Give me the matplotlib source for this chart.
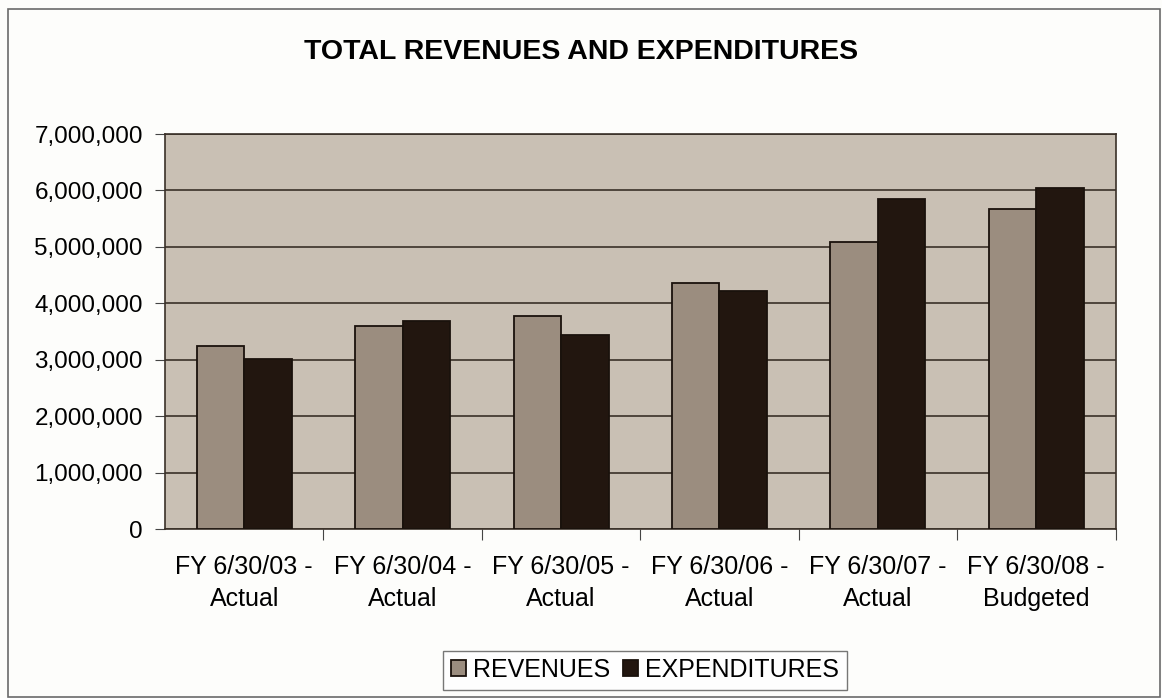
import matplotlib.pyplot as plt
from matplotlib.patches import Rectangle
from matplotlib.ticker import FuncFormatter
import numpy as np

plt.rcParams['font.family'] = ['Liberation Sans', 'DejaVu Sans']

categories = ['FY 6/30/03 -\nActual', 'FY 6/30/04 -\nActual', 'FY 6/30/05 -\nActual',
              'FY 6/30/06 -\nActual', 'FY 6/30/07 -\nActual', 'FY 6/30/08 -\nBudgeted']
revenues = [3250000, 3600000, 3780000, 4360000, 5090000, 5670000]
expenditures = [3010000, 3680000, 3440000, 4220000, 5850000, 6050000]

fig = plt.figure(figsize=(11.62, 6.98), dpi=100)
fig.patch.set_facecolor('#fdfdfb')
# outer chart frame
fig.add_artist(Rectangle((0.007, 0.001), 0.991, 0.986, transform=fig.transFigure,
                         fill=False, edgecolor='#6a6a6a', linewidth=1.2))

ax = fig.add_axes([0.142, 0.242, 0.818, 0.566])
ax.set_facecolor('#c9c0b4')

x = np.arange(len(categories))
w = 0.30
ax.bar(x - w/2, revenues, w, color='#9b8d7f', edgecolor='#1a120c', linewidth=1.3,
       label='REVENUES', zorder=3)
ax.bar(x + w/2, expenditures, w, color='#22160f', edgecolor='#1a120c', linewidth=1.3,
       label='EXPENDITURES', zorder=3)

ax.set_xlim(-0.5, len(categories) - 0.5)
ax.set_ylim(0, 7000000)
ax.set_yticks(np.arange(0, 7000001, 1000000))
ax.yaxis.set_major_formatter(FuncFormatter(lambda v, p: f'{int(v):,}'))
ax.yaxis.grid(True, color='#3a3028', linewidth=1.2, zorder=1)
ax.set_axisbelow(True)

ax.set_xticks(np.arange(len(categories)) + 0.5, minor=False)
ax.set_xticklabels([])
ax.set_xticks(x, minor=True)
ax.set_xticklabels(categories, minor=True, fontsize=18, linespacing=1.4)
ax.tick_params(axis='x', which='minor', length=0, pad=19)
ax.tick_params(axis='x', which='major', length=8, color='#444444')
ax.tick_params(axis='y', labelsize=17.5, length=7, pad=9, color='#444444')

for s in ax.spines.values():
    s.set_color('#3a3028')
    s.set_linewidth(1.2)

fig.text(0.5, 0.926, 'TOTAL REVENUES AND EXPENDITURES', ha='center', va='center',
         fontsize=20.5, fontweight='bold')

leg = fig.legend(loc='center', bbox_to_anchor=(0.555, 0.04), ncol=2, fontsize=18,
                 frameon=True, fancybox=False, edgecolor='#555555', handlelength=0.6,
                 handleheight=0.6, handletextpad=0.3, columnspacing=0.5,
                 borderpad=0.3)
leg.get_frame().set_linewidth(1.0)

fig.savefig('out.png', dpi=100, facecolor=fig.get_facecolor())
